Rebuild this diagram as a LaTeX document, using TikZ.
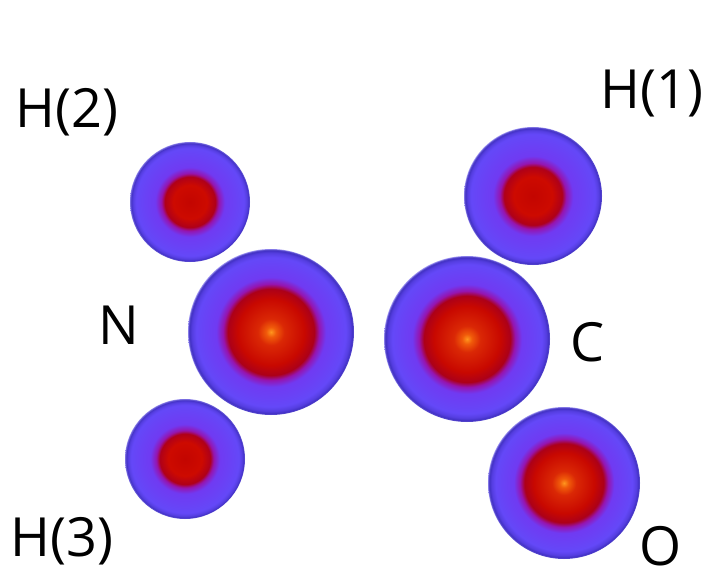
\documentclass[tikz,border=0pt]{standalone}
\usepackage{fontspec}
\setmainfont{Open Sans}

% Radial density shadings; the circle edge sits at 25bp
\pgfdeclareradialshading{heavyatom}{\pgfpoint{0bp}{0bp}}{%
  color(0bp)=(rgb,255:red,255;green,150;blue,30);
  color(1.5bp)=(rgb,255:red,240;green,90;blue,10);
  color(4bp)=(rgb,255:red,218;green,40;blue,5);
  color(10bp)=(rgb,255:red,200;green,8;blue,0);
  color(13bp)=(rgb,255:red,172;green,0;blue,25);
  color(14.5bp)=(rgb,255:red,150;green,20;blue,175);
  color(16.5bp)=(rgb,255:red,112;green,58;blue,242);
  color(22.5bp)=(rgb,255:red,100;green,72;blue,248);
  color(23.8bp)=(rgb,255:red,85;green,62;blue,225);
  color(24.7bp)=(rgb,255:red,62;green,46;blue,190);
  color(25bp)=(rgb,255:red,150;green,140;blue,240);
  color(50bp)=(rgb,255:red,255;green,255;blue,255)}
\pgfdeclareradialshading{hydrogen}{\pgfpoint{0bp}{0bp}}{%
  color(0bp)=(rgb,255:red,195;green,5;blue,0);
  color(7bp)=(rgb,255:red,205;green,10;blue,0);
  color(10.5bp)=(rgb,255:red,175;green,0;blue,25);
  color(12bp)=(rgb,255:red,150;green,20;blue,175);
  color(14.5bp)=(rgb,255:red,112;green,58;blue,242);
  color(22.5bp)=(rgb,255:red,100;green,72;blue,248);
  color(23.8bp)=(rgb,255:red,85;green,62;blue,225);
  color(24.7bp)=(rgb,255:red,62;green,46;blue,190);
  color(25bp)=(rgb,255:red,150;green,140;blue,240);
  color(50bp)=(rgb,255:red,255;green,255;blue,255)}

\tikzset{
  atom/.style={circle, inner sep=0pt, draw=none},
  heavy/.style={atom, shading=heavyatom},
  light/.style={atom, shading=hydrogen},
  lbl/.style={inner sep=0pt, text=black, font=\fontsize{54}{58}\selectfont}
}

\begin{document}
\begin{tikzpicture}[x=1pt, y=-1pt]
  \useasboundingbox (0,0) rectangle (709,580);
  \fill[white] (0,0) rectangle (709,580);

  % atoms
  \node[light, minimum size=120pt] (h2) at (190,202) {};
  \node[heavy, minimum size=166pt] (n)  at (271,332) {};
  \node[light, minimum size=120pt] (h3) at (185,459) {};
  \node[light, minimum size=138pt] (h1) at (533,196) {};
  \node[heavy, minimum size=166pt] (c)  at (467,339) {};
  \node[heavy, minimum size=152pt] (o)  at (564,483) {};

  % element labels
  \node[lbl] (lh2) at (67,112) {H(2)};
  \node[lbl] (lh1) at (652,93) {H(1)};
  \node[lbl] (ln)  at (119,325) {N};
  \node[lbl] (lc)  at (588,342) {C};
  \node[lbl] (lh3) at (62,541) {H(3)};
  \node[lbl] (lo)  at (661,546) {O};
\end{tikzpicture}
\end{document}
